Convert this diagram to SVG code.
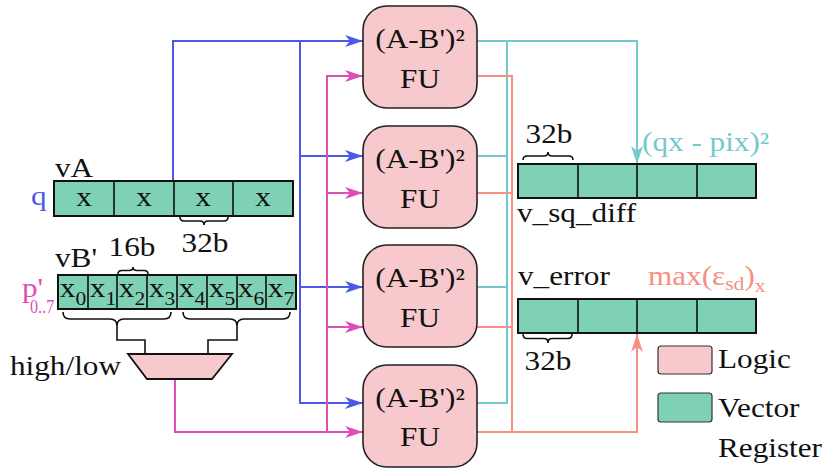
<svg xmlns="http://www.w3.org/2000/svg" width="828" height="469" viewBox="0 0 828 469">
<style>
.t{font-family:"Liberation Serif","Times New Roman",serif;font-size:27.5px;fill:#111}
.s{font-size:19px}
.m{text-anchor:middle}
.fu{fill:#f7c9cc;stroke:#222;stroke-width:1.6}
.reg{fill:#7fd1b6;stroke:#111;stroke-width:2}
.br{fill:none;stroke:#111;stroke-width:1.6}
.c{fill:none;stroke-width:2}
.blue{stroke:#4a5ae6}
.pink{stroke:#e04db8}
.cyan{stroke:#74c9cc}
.sal{stroke:#f78f82}
</style>
<defs>
<marker id="ab" markerUnits="userSpaceOnUse" markerWidth="20" markerHeight="14" refX="18" refY="6" orient="auto"><path d="M0,0 L18,6 L0,12 L5,6 z" fill="#4a5ae6"/></marker>
<marker id="ap" markerUnits="userSpaceOnUse" markerWidth="20" markerHeight="14" refX="18" refY="6" orient="auto"><path d="M0,0 L18,6 L0,12 L5,6 z" fill="#e04db8"/></marker>
<marker id="ac" markerUnits="userSpaceOnUse" markerWidth="20" markerHeight="14" refX="18" refY="6" orient="auto"><path d="M0,0 L18,6 L0,12 L5,6 z" fill="#74c9cc"/></marker>
<marker id="as" markerUnits="userSpaceOnUse" markerWidth="20" markerHeight="14" refX="18" refY="6" orient="auto"><path d="M0,0 L18,6 L0,12 L5,6 z" fill="#f78f82"/></marker>
</defs>
<rect width="828" height="469" fill="#fff"/>

<g id="connectors">
<path class="c blue" d="M173,181 V41 H363" marker-end="url(#ab)"/>
<path class="c blue" d="M300,41 V403 H363" marker-end="url(#ab)"/>
<path class="c blue" d="M300,156 H363" marker-end="url(#ab)"/>
<path class="c blue" d="M300,287 H363" marker-end="url(#ab)"/>
<path class="c pink" d="M175,379 V432 H363" marker-end="url(#ap)"/>
<path class="c pink" d="M327,432 V76 H363" marker-end="url(#ap)"/>
<path class="c pink" d="M327,193 H363" marker-end="url(#ap)"/>
<path class="c pink" d="M327,327 H363" marker-end="url(#ap)"/>
<path class="c cyan" d="M477,41 H637 V164" marker-end="url(#ac)"/>
<path class="c cyan" d="M507,41 V403 H477"/>
<path class="c cyan" d="M477,156 H507"/>
<path class="c cyan" d="M477,287 H507"/>
<path class="c sal" d="M477,76 H512 V432"/>
<path class="c sal" d="M477,193 H512"/>
<path class="c sal" d="M477,327 H512"/>
<path class="c sal" d="M477,432 H637 V334" marker-end="url(#as)"/>
<path class="br" d="M117,326 V340 H145 V354"/>
<path class="br" d="M237,326 V340 H208 V354"/>
</g>

<g id="vA">
<text class="t" transform="translate(55 177) scale(1.135 1)">vA</text>
<text class="t" transform="translate(31 205) scale(1.135 1)" style="fill:#4a5ae6">q</text>
<rect class="reg" x="54" y="181" width="239" height="35"/>
<path class="br" d="M114,181 V216 M174,181 V216 M233,181 V216"/>
<text class="t m" transform="translate(84 206) scale(1.135 1)">x</text>
<text class="t m" transform="translate(144 206) scale(1.135 1)">x</text>
<text class="t m" transform="translate(203 206) scale(1.135 1)">x</text>
<text class="t m" transform="translate(263 206) scale(1.135 1)">x</text>
<path class="br" d="M180,217 q0,4 4,4 H200 q4,0 4,4 q0,-4 4,-4 H224 q4,0 4,-4"/>
<text class="t m" transform="translate(205 252) scale(1.135 1)">32b</text>
</g>

<g id="vB">
<text class="t" transform="translate(55 267) scale(1.135 1)">vB'</text>
<text class="t m" transform="translate(132 256) scale(1.135 1)">16b</text>
<path class="br" d="M118,274 q0,-3.5 4,-3.5 H129 q4,0 4,-3.5 q0,3.5 4,3.5 H144 q4,0 4,3.5"/>
<text class="t" transform="translate(22 297) scale(1.135 1)" style="fill:#e04db8">p'</text>
<text class="t s" transform="translate(30 313) scale(0.85 1)" style="fill:#e04db8">0..7</text>
<rect class="reg" x="58" y="275" width="238" height="34"/>
<path class="br" d="M88,275 V309 M117,275 V309 M147,275 V309 M177,275 V309 M207,275 V309 M237,275 V309 M266,275 V309"/>
<text class="t m" transform="translate(73 297) scale(1.135 1)">x<tspan class="s" dy="8">0</tspan></text>
<text class="t m" transform="translate(103 297) scale(1.135 1)">x<tspan class="s" dy="8">1</tspan></text>
<text class="t m" transform="translate(132 297) scale(1.135 1)">x<tspan class="s" dy="8">2</tspan></text>
<text class="t m" transform="translate(162 297) scale(1.135 1)">x<tspan class="s" dy="8">3</tspan></text>
<text class="t m" transform="translate(192 297) scale(1.135 1)">x<tspan class="s" dy="8">4</tspan></text>
<text class="t m" transform="translate(222 297) scale(1.135 1)">x<tspan class="s" dy="8">5</tspan></text>
<text class="t m" transform="translate(251 297) scale(1.135 1)">x<tspan class="s" dy="8">6</tspan></text>
<text class="t m" transform="translate(281 297) scale(1.135 1)">x<tspan class="s" dy="8">7</tspan></text>
<path class="br" d="M63,312 q0,7 7,7 H110 q7,0 7,7 q0,-7 7,-7 H164 q7,0 7,-7"/>
<path class="br" d="M183,312 q0,7 7,7 H230 q7,0 7,7 q0,-7 7,-7 H283 q7,0 7,-7"/>
</g>

<g id="mux">
<polygon points="128,354 232,354 212,379 147,379" fill="#f7c9cc" stroke="#111" stroke-width="1.8"/>
<text class="t" transform="translate(10 375) scale(1.135 1)">high/low</text>
</g>

<g id="fu1">
<rect class="fu" x="363" y="6" width="114" height="102" rx="24"/>
<text class="t m" transform="translate(420 48) scale(1.135 1)">(A-B')²</text>
<text class="t m" transform="translate(420 88) scale(1.135 1)">FU</text>
</g>
<g id="fu2">
<rect class="fu" x="363" y="126" width="114" height="102" rx="24"/>
<text class="t m" transform="translate(420 168) scale(1.135 1)">(A-B')²</text>
<text class="t m" transform="translate(420 208) scale(1.135 1)">FU</text>
</g>
<g id="fu3">
<rect class="fu" x="363" y="245" width="114" height="102" rx="24"/>
<text class="t m" transform="translate(420 287) scale(1.135 1)">(A-B')²</text>
<text class="t m" transform="translate(420 327) scale(1.135 1)">FU</text>
</g>
<g id="fu4">
<rect class="fu" x="363" y="365" width="114" height="102" rx="24"/>
<text class="t m" transform="translate(420 407) scale(1.135 1)">(A-B')²</text>
<text class="t m" transform="translate(420 446) scale(1.135 1)">FU</text>
</g>

<g id="v_sq_diff">
<text class="t m" transform="translate(549 143) scale(1.135 1)">32b</text>
<path class="br" d="M523,160 q0,-4 4,-4 H544 q4,0 4,-4 q0,4 4,4 H569 q4,0 4,4"/>
<text class="t" transform="translate(642 151) scale(1.135 1)" style="fill:#74c9cc">(qx - pix)²</text>
<rect class="reg" x="518" y="164" width="238" height="34"/>
<path class="br" d="M578,164 V198 M637,164 V198 M697,164 V198"/>
<text class="t" transform="translate(517 222) scale(1.135 1)">v_sq_diff</text>
</g>

<g id="v_error">
<text class="t" transform="translate(518 285) scale(1.135 1)">v_error</text>
<text class="t" transform="translate(648 285) scale(1.135 1)" style="fill:#f78f82">max(ε<tspan class="s" dy="5">sd</tspan><tspan dy="-5">)</tspan><tspan class="s" dy="7">x</tspan></text>
<rect class="reg" x="518" y="299" width="238" height="34"/>
<path class="br" d="M578,299 V333 M637,299 V333 M697,299 V333"/>
<path class="br" d="M523,334 q0,4.5 4,4.5 H544 q4,0 4,4.5 q0,-4.5 4,-4.5 H568 q4,0 4,-4.5"/>
<text class="t m" transform="translate(548 370) scale(1.135 1)">32b</text>
</g>

<g id="legend">
<rect x="658" y="346" width="54" height="28" rx="3" fill="#f7c9cc" stroke="#333" stroke-width="1.2"/>
<text class="t" transform="translate(718 368) scale(1.135 1)">Logic</text>
<rect x="658" y="393" width="54" height="29" rx="3" fill="#7fd1b6" stroke="#333" stroke-width="1.2"/>
<text class="t" transform="translate(718 417) scale(1.135 1)">Vector</text>
<text class="t" transform="translate(718 457) scale(1.135 1)">Register</text>
</g>
</svg>
